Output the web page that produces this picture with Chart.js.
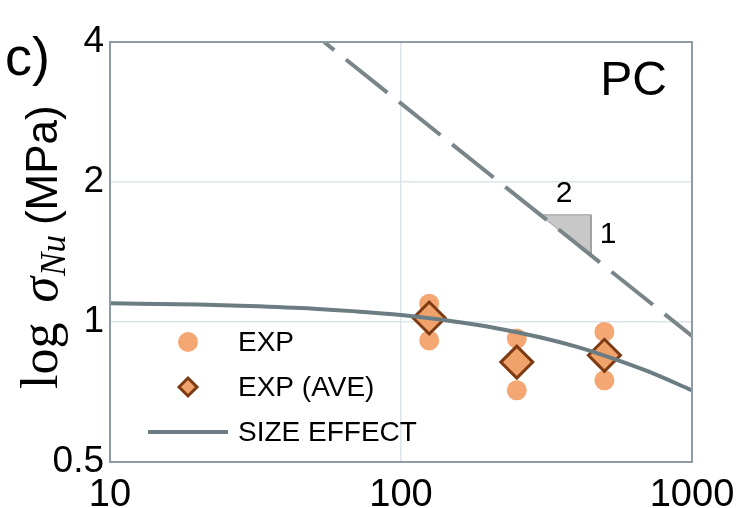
<!DOCTYPE html>
<html>
<head>
<meta charset="utf-8">
<title>Size effect – PC</title>
<script src="https://cdn.jsdelivr.net/npm/chart.js@4/dist/chart.umd.min.js"></script>
<style>
  html, body { margin: 0; padding: 0; background: #ffffff; }
  #wrap { width: 747px; height: 508px; position: relative; }
</style>
</head>
<body>
<div id="wrap"><canvas id="chart" width="747" height="508"></canvas></div>
<script>
// Specimen size D (mm) and nominal strength sigma_Nu (MPa)
const expSize = [125, 125, 250, 250, 500, 500];
const expStrength = [1.095, 0.913, 0.921, 0.713, 0.952, 0.749];

const aveSize = [125, 250, 500];
const aveStrength = [1.02, 0.82, 0.848];

// size effect law curve
const sizeEffectD = [10, 20, 30, 50, 70, 100, 150, 200, 300, 400, 500, 700, 1000];
const sizeEffectStrength = [1.097, 1.090, 1.082, 1.068, 1.054, 1.035, 1.004, 0.977, 0.927, 0.885, 0.847, 0.785, 0.713];

// LEFM asymptote, slope -1/2
const lefmD = [54.4, 1000];
const lefmStrength = [4.0, 0.933];

// slope marker triangle (2 : 1)
const slopeD = [300, 450, 450, 300];
const slopeStrength = [1.70, 1.70, 1.39, 1.70];

const xTicks = [10, 100, 1000];
const yTicks = [0.5, 1, 2, 4];

const seriesNames = ['EXP', 'EXP (AVE)', 'SIZE EFFECT'];
const panelLabel = 'c)';
const materialLabel = 'PC';
const slopeLabels = ['2', '1'];

const pts = (xs, ys) => xs.map((x, i) => ({ x: x, y: ys[i] }));

const C = {
  exp: '#f4a772',
  aveFill: '#f0a26b',
  aveEdge: '#7e3b13',
  fit: '#6c7c83',
  lefm: '#7a8589',
  frame: '#8d9ca3',
  grid: '#dce5ea',
  tri: '#c8c8c8',
  triEdge: '#9c9c9c'
};

Chart.defaults.font.family = '"Liberation Sans", Arial, sans-serif';
Chart.defaults.color = '#000';

// frame, in-plot labels, legend and axis title
const overlay = {
  id: 'overlay',
  afterDraw(chart) {
    const ctx = chart.ctx;
    const a = chart.chartArea;
    ctx.save();

    // plot frame
    ctx.strokeStyle = C.frame;
    ctx.lineWidth = 2;
    ctx.strokeRect(a.left, a.top, a.right - a.left, a.bottom - a.top);

    // material label
    ctx.fillStyle = '#000';
    ctx.font = '48px "Liberation Sans", Arial, sans-serif';
    ctx.textAlign = 'right';
    ctx.textBaseline = 'alphabetic';
    ctx.fillText(materialLabel, 667, 95);

    // slope ratio labels
    ctx.font = '30px "Liberation Sans", Arial, sans-serif';
    ctx.textAlign = 'center';
    ctx.fillText(slopeLabels[0], 564, 202);
    ctx.fillText(slopeLabels[1], 608, 243);

    // panel label
    ctx.font = '54px "Liberation Sans", Arial, sans-serif';
    ctx.textAlign = 'left';
    ctx.fillText(panelLabel, 5, 75);

    // legend
    const ds = chart.data.datasets;
    const lx = 188, tx = 238;
    const rows = [342, 387, 432];
    ctx.font = '28px "Liberation Sans", Arial, sans-serif';
    ctx.textBaseline = 'middle';
    ctx.textAlign = 'left';
    // EXP marker
    ctx.fillStyle = ds[4].backgroundColor;
    ctx.beginPath();
    ctx.arc(lx, rows[0], 10, 0, Math.PI * 2);
    ctx.fill();
    // EXP (AVE) marker
    ctx.beginPath();
    const r = 9;
    ctx.moveTo(lx - r, rows[1]);
    ctx.lineTo(lx, rows[1] - r);
    ctx.lineTo(lx + r, rows[1]);
    ctx.lineTo(lx, rows[1] + r);
    ctx.closePath();
    ctx.fillStyle = ds[2].backgroundColor;
    ctx.fill();
    ctx.lineWidth = 3;
    ctx.strokeStyle = ds[2].borderColor;
    ctx.stroke();
    // SIZE EFFECT line
    ctx.beginPath();
    ctx.moveTo(148, rows[2]);
    ctx.lineTo(228, rows[2]);
    ctx.lineWidth = 4;
    ctx.strokeStyle = ds[0].borderColor;
    ctx.stroke();
    ctx.fillStyle = '#000';
    ctx.fillText(ds[4].label, tx, rows[0] + 1);
    ctx.fillText(ds[2].label, tx, rows[1] + 1);
    ctx.fillText(ds[0].label, tx, rows[2] + 1);

    // y axis title: log sigma_Nu (MPa), read bottom to top
    ctx.translate(57, 389);
    ctx.rotate(-Math.PI / 2);
    ctx.textAlign = 'left';
    ctx.textBaseline = 'alphabetic';
    const parts = [
      { t: 'log', f: '52px "Liberation Serif", serif', dy: 0, gap: 20 },
      { t: 'σ', f: 'italic 52px "Liberation Serif", serif', dy: 0, gap: 1 },
      { t: 'Nu', f: 'italic 35px "Liberation Serif", serif', dy: 8, gap: 10 },
      { t: '(MPa)', f: '44px "Liberation Sans", Arial, sans-serif', dy: 0, gap: 0 }
    ];
    let x = 0;
    parts.forEach(p => {
      ctx.font = p.f;
      ctx.fillText(p.t, x, p.dy);
      x += ctx.measureText(p.t).width + p.gap;
    });

    ctx.restore();
  }
};

new Chart(document.getElementById('chart'), {
  type: 'scatter',
  data: {
    datasets: [
      {
        label: seriesNames[2],
        data: pts(sizeEffectD, sizeEffectStrength),
        showLine: true,
        borderColor: C.fit,
        borderWidth: 4,
        pointRadius: 0,
        cubicInterpolationMode: 'monotone',
        order: 0
      },
      {
        label: 'LEFM',
        data: pts(lefmD, lefmStrength),
        showLine: true,
        borderColor: C.lefm,
        borderWidth: 4,
        borderDash: [53, 15],
        borderDashOffset: 40,
        pointRadius: 0,
        clip: 0,
        order: 1
      },
      {
        label: seriesNames[1],
        data: pts(aveSize, aveStrength),
        pointStyle: 'rectRot',
        pointRadius: 16,
        borderWidth: 3,
        borderColor: C.aveEdge,
        backgroundColor: C.aveFill,
        order: 2
      },
      {
        label: 'slope',
        data: pts(slopeD, slopeStrength),
        showLine: true,
        fill: 'shape',
        backgroundColor: C.tri,
        borderColor: C.triEdge,
        borderWidth: 1,
        pointRadius: 0,
        order: 3
      },
      {
        label: seriesNames[0],
        data: pts(expSize, expStrength),
        pointStyle: 'circle',
        pointRadius: 10,
        borderWidth: 0,
        backgroundColor: C.exp,
        order: 4
      }
    ]
  },
  options: {
    responsive: false,
    devicePixelRatio: 1,
    animation: false,
    events: [],
    layout: { padding: { top: 42, right: 55, bottom: 0, left: 0 } },
    plugins: {
      legend: { display: false },
      tooltip: { enabled: false },
      title: { display: false }
    },
    scales: {
      x: {
        type: 'logarithmic',
        min: 10,
        max: 1000,
        afterBuildTicks: s => { s.ticks = xTicks.map(v => ({ value: v })); },
        afterFit: s => { s.height = 46; },
        grid: { color: C.grid, lineWidth: 1.5, drawTicks: false },
        border: { display: false },
        ticks: {
          font: { size: 38 },
          color: '#000',
          padding: 11,
          maxRotation: 0,
          autoSkip: false,
          callback: v => String(v)
        }
      },
      y: {
        type: 'logarithmic',
        min: 0.5,
        max: 4,
        afterBuildTicks: s => { s.ticks = yTicks.map(v => ({ value: v })); },
        afterFit: s => { s.width = 110; },
        grid: { color: C.grid, lineWidth: 1.5, drawTicks: false },
        border: { display: false },
        ticks: {
          font: { size: 37 },
          color: '#000',
          padding: 6,
          autoSkip: false,
          callback: v => String(v)
        }
      }
    }
  },
  plugins: [overlay]
});
</script>
</body>
</html>
